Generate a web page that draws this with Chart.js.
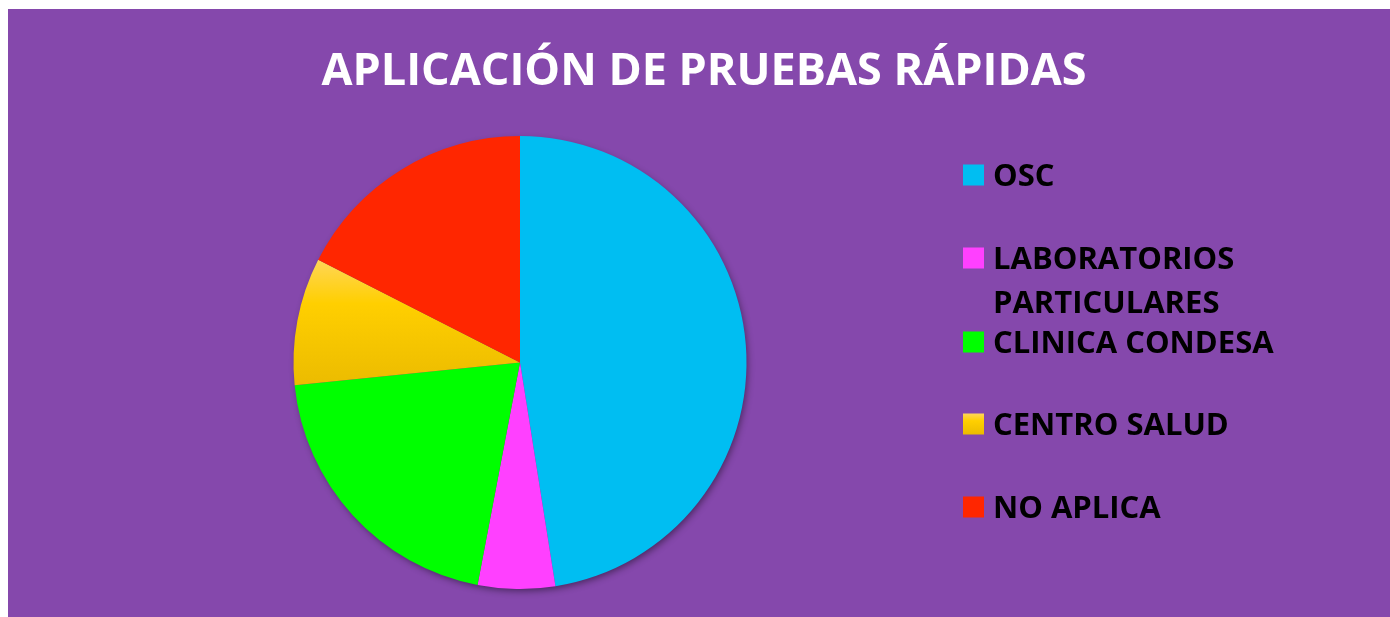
<!DOCTYPE html>
<html>
<head>
<meta charset="utf-8">
<script src="https://cdn.jsdelivr.net/npm/chart.js@4/dist/chart.umd.min.js"></script>
<style>
  body { margin: 0; background: #ffffff; }
  #wrap { position: absolute; left: 8px; top: 9px; width: 1382px; height: 608px; background: #8548ac; }
</style>
</head>
<body>
<div id="wrap"><canvas id="pruebasChart"></canvas></div>
<script>
// Datos (porcentajes estimados)
const categorias = ['OSC', ['LABORATORIOS', 'PARTICULARES'], 'CLINICA CONDESA', 'CENTRO SALUD', 'NO APLICA'];
const valores = [47.5, 5.5, 20.4, 9.1, 17.5];
const colores = ['#00bef2', '#ff40ff', '#00ff00', '#ffcc00', '#ff2600'];
const titulo = 'APLICACIÓN DE PRUEBAS RÁPIDAS';

function degradadoAmarillo(c, y0, y1) {
    const g = c.createLinearGradient(0, y0, 0, y1);
    g.addColorStop(0, '#ffd65a');
    g.addColorStop(0.35, '#ffcf00');
    g.addColorStop(1, '#ebbb00');
    return g;
}

// degradado para el amarillo (como en la original)
function colorSlice(context) {
    const i = context.dataIndex;
    if (i !== 3) return colores[i];
    const area = context.chart.chartArea;
    if (!area) return colores[i];
    const cy = (area.top + area.bottom) / 2;
    const r = Math.min(area.right - area.left, area.bottom - area.top) / 2;
    return degradadoAmarillo(context.chart.ctx, cy - 0.46 * r, cy + 0.11 * r);
}

// sombra debajo del pastel
const sombraPlugin = {
    id: 'sombra',
    beforeDatasetsDraw(chart) {
        const el = chart.getDatasetMeta(0).data[0];
        if (!el) return;
        const ctx = chart.ctx;
        ctx.save();
        ctx.shadowColor = 'rgba(0,0,0,0.45)';
        ctx.shadowBlur = 7;
        ctx.shadowOffsetX = 2;
        ctx.shadowOffsetY = 3;
        ctx.fillStyle = '#6a3a8a';
        ctx.beginPath();
        ctx.arc(el.x, el.y, el.outerRadius - 1, 0, Math.PI * 2);
        ctx.fill();
        ctx.restore();
    }
};

// título y leyenda
const textosPlugin = {
    id: 'textos',
    afterDraw(chart) {
        const ctx = chart.ctx;
        ctx.save();
        ctx.textBaseline = 'middle';
        ctx.textAlign = 'center';
        ctx.fillStyle = '#ffffff';
        ctx.font = 'bold 45px "Open Sans"';
        ctx.fillText(titulo, 696, 63);

        const filas = [166, 249, 333, 415, 498];
        ctx.textAlign = 'left';
        ctx.font = 'bold 31px "Open Sans"';
        categorias.forEach((cat, i) => {
            const y = filas[i];
            ctx.fillStyle = i === 3 ? degradadoAmarillo(ctx, y - 10.5, y + 10.5) : colores[i];
            ctx.fillRect(955, y - 10.5, 21, 21);
            ctx.fillStyle = '#000000';
            const lineas = Array.isArray(cat) ? cat : [cat];
            lineas.forEach((t, j) => {
                ctx.fillText(t, 985, y + 2 + j * 44);
            });
        });
        ctx.restore();
    }
};

const ctx = document.getElementById('pruebasChart').getContext('2d');

new Chart(ctx, {
    type: 'pie',
    data: {
        labels: categorias,
        datasets: [{
            data: valores,
            backgroundColor: colorSlice,
            borderWidth: 0
        }]
    },
    options: {
        responsive: true,
        maintainAspectRatio: false,
        animation: false,
        layout: {
            padding: { left: 285.5, right: 643.5, top: 127, bottom: 28 }
        },
        plugins: {
            legend: { display: false },
            tooltip: { enabled: false },
            title: { display: false }
        }
    },
    plugins: [sombraPlugin, textosPlugin]
});
</script>
</body>
</html>
